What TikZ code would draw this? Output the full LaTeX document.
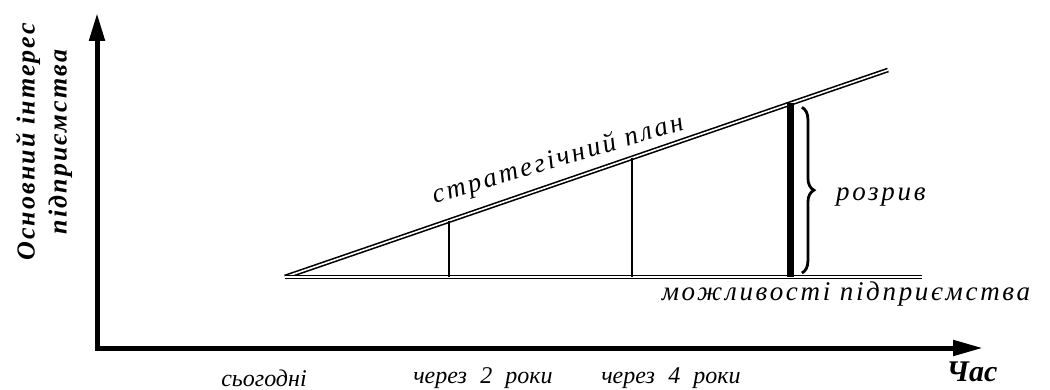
\documentclass[tikz,border=0pt]{standalone}
\usepackage{fontspec}
\setmainfont{Liberation Serif}
\newfontfamily\timefont{Liberation Serif}[WordSpace=2.2]
\usetikzlibrary{arrows.meta,calc,decorations.pathreplacing}

\begin{document}
\begin{tikzpicture}[x=1pt,y=-1pt,
  axis/.style={line width=5pt, {Triangle[length=28pt,width=15pt]}-{Triangle[length=30pt,width=15pt]}},
  twin/.style={double, double distance=1.6pt, line width=1.6pt},
  riser/.style={line width=2.2pt},
  lbl/.style={font=\timefont\fontsize{24}{28}\selectfont\itshape, inner sep=0pt},
  wide lbl/.style={font=\fontsize{27}{30}\selectfont\itshape\addfontfeatures{LetterSpace=10}, inner sep=0pt},
  bold lbl/.style={font=\fontsize{26}{32}\selectfont\bfseries\itshape\addfontfeatures{LetterSpace=8}, inner sep=0pt}]
\useasboundingbox (0,0) rectangle (1050,390);

% Axes
\coordinate (yend) at (97,13);
\coordinate (origin) at (97,348);
\coordinate (xend) at (983,348);
\draw[axis] (yend) -- (origin) -- (xend);
\node[bold lbl, rotate=90, align=center] (ylabel) at (44,142) {Основний інтерес\\підприємства};
\node[bold lbl, font=\fontsize{30}{34}\selectfont\bfseries\itshape] (time) at (972,372) {Час};

% Strategic plan and capabilities
\coordinate (today) at (285,277);
\coordinate (planend) at (888,70);
\coordinate (capend) at (922,277);
\draw[twin] (today) -- (planend);
\node[wide lbl, rotate=16.5] (plan) at (558,160) {стратегічний план};
\draw[twin] (today) -- (capend);
\node[wide lbl] (cap) at (846,294) {можливості підприємства};

% Gaps after 2 and 4 years
\coordinate (g2) at ($(today)!0.272!(planend)$);
\coordinate (g4) at ($(today)!0.5755!(planend)$);
\coordinate (gn) at ($(today)!0.839!(planend)$);
\draw[riser] (g2) -- (g2 |- today);
\draw[riser] (g4) -- (g4 |- today);
\draw[line width=7pt] (gn) -- (gn |- today);
\draw[decorate, decoration={brace, amplitude=12pt}, line width=2.8pt]
  ($(gn)+(11,4)$) coordinate (btop) -- ($(gn |- today)+(11,-4)$) coordinate (bbot);
\node[wide lbl, anchor=west] (gap) at (836,197) {розрив};

% Time labels
\node[lbl] (now) at (264,378) {сьогодні};
\node[lbl] (y2) at (483,378) {через 2 роки};
\node[lbl] (y4) at (671,378) {через 4 роки};
\end{tikzpicture}
\end{document}
